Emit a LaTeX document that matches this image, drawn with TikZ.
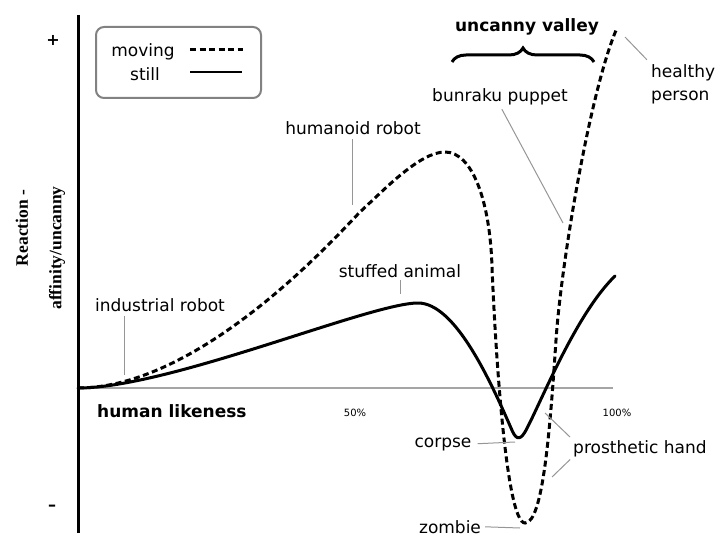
\documentclass[tikz,border=0pt]{standalone}
\usepackage{fontspec}
\setmainfont{DejaVu Sans}
\newfontfamily\axisserif{Liberation Serif}
\usetikzlibrary{decorations.pathreplacing}
\definecolor{leadgray}{RGB}{150,150,150}
\definecolor{axisgray}{RGB}{165,165,165}
\definecolor{boxgray}{RGB}{130,130,130}

\begin{document}
\begin{tikzpicture}[
  x=1pt, y=-1pt,
  lbl/.style={font=\fontsize{17}{23}\selectfont, inner sep=0pt, anchor=base},
  boldlbl/.style={lbl, font=\fontsize{17}{23}\selectfont\bfseries},
  ticklbl/.style={font=\fontsize{10}{12}\selectfont, inner sep=0pt, anchor=base},
  ylab/.style={font=\fontsize{17.5}{20}\selectfont\axisserif\bfseries, rotate=90, inner sep=0pt},
  lead/.style={draw=leadgray, line width=1pt, shorten <=4pt},
  stillline/.style={line width=3pt, line join=round, line cap=round},
  movingline/.style={line width=3pt, dash pattern=on 6pt off 3.5pt},
  legendbox/.style={draw=boxgray, line width=2pt, rounded corners=8pt,
                    minimum width=165pt, minimum height=71pt}
]
  \useasboundingbox (0,0) rectangle (715,537);

  % axes
  \coordinate (o) at (78,388);
  \coordinate (ytop) at (78,15);
  \coordinate (ybot) at (78,533);
  \coordinate (xend) at (613,388);
  \draw[axisgray, line width=2pt] (o) -- (xend);
  \draw[line width=3pt] (ytop) -- (ybot);

  \node[font=\fontsize{16}{18}\selectfont\bfseries, inner sep=0pt] (plus) at (53,40) {+};
  \node[font=\fontsize{16}{18}\selectfont\bfseries, inner sep=0pt] (minus) at (52,508) {--};
  \node[ylab] (reaction) at (22,228) {Reaction -};
  \node[ylab] (affinity) at (57,248) {affinity/uncanny};

  \node[boldlbl, anchor=base west] (likeness) at (97,417) {human likeness};
  \node[ticklbl] (half) at (355,416) {50\%};
  \node[ticklbl] (full) at (617,416) {100\%};

  % legend
  \node[legendbox] (legend) at (178.5,62.5) {};
  \node[lbl] (movingtxt) at (143,57) {moving};
  \node[lbl] (stilltxt) at (145,81) {still};
  \coordinate (mv1) at (190,50);
  \coordinate (mv2) at (243,50);
  \coordinate (st1) at (190,72);
  \coordinate (st2) at (242,72);
  \draw[movingline] (mv1) -- (mv2);
  \draw[line width=2pt] (st1) -- (st2);

  % curves
  \draw[movingline] (o)
    .. controls (200,388) and (335,238) .. (360,212)
    .. controls (385,189) and (420,152) .. (445,152)
    .. controls (472,152) and (490,200) .. (492,267)
    .. controls (494.5,330) and (505,523) .. (525,523)
    .. controls (543,523) and (550,430) .. (556,340)
    .. controls (561,265) and (590,90) .. (617,28);
  \draw[stillline] (o)
    .. controls (170,388) and (370,303) .. (418,303)
    .. controls (455,303) and (490,380) .. (511,428)
    .. controls (515,438) and (519,442) .. (525,432)
    .. controls (540,405) and (575,315) .. (615,276);

  % uncanny valley brace
  \coordinate (bl) at (452,62);
  \coordinate (br) at (594,62);
  \draw[line width=3pt, decorate, decoration={brace, amplitude=14pt}] (bl) -- (br);
  \node[boldlbl] (valley) at (527,32) {uncanny valley};

  % labels and leaders
  \node[lbl] (industrial) at (160,312) {industrial robot};
  \coordinate (ir) at (124,375);
  \draw[lead] (ir |- industrial.south) -- (ir);

  \node[lbl] (humanoid) at (353,135) {humanoid robot};
  \coordinate (hr) at (352,205);
  \draw[lead] (hr |- humanoid.south) -- (hr);

  \node[lbl] (stuffed) at (400,278) {stuffed animal};
  \coordinate (sa) at (400,294);
  \draw[lead, shorten <=2pt] (sa |- stuffed.south) -- (sa);

  \node[lbl] (bunraku) at (500,102) {bunraku puppet};
  \coordinate (bp) at (563,223);
  \draw[lead] (bunraku.south) -- (bp);

  \node[lbl, anchor=north west, align=left] (healthy) at (651,64) {healthy\\person};
  \coordinate (hp) at (625,37);
  \draw[lead, shorten <=6pt] (healthy.north west) -- (hp);

  \node[lbl] (corpse) at (443,447) {corpse};
  \coordinate (cp) at (515,442);
  \draw[lead, shorten <=6pt] (corpse.east) -- (cp);

  \node[lbl, anchor=base west] (prosthetic) at (573,453) {prosthetic hand};
  \coordinate (ph1) at (545,413);
  \coordinate (ph2) at (552,477);
  \draw[lead] (prosthetic.north west) -- (ph1);
  \draw[lead] (prosthetic.south west) -- (ph2);

  \node[lbl] (zombie) at (450,533) {zombie};
  \coordinate (zb) at (520,528);
  \draw[lead] (zombie.east) -- (zb);
\end{tikzpicture}
\end{document}
